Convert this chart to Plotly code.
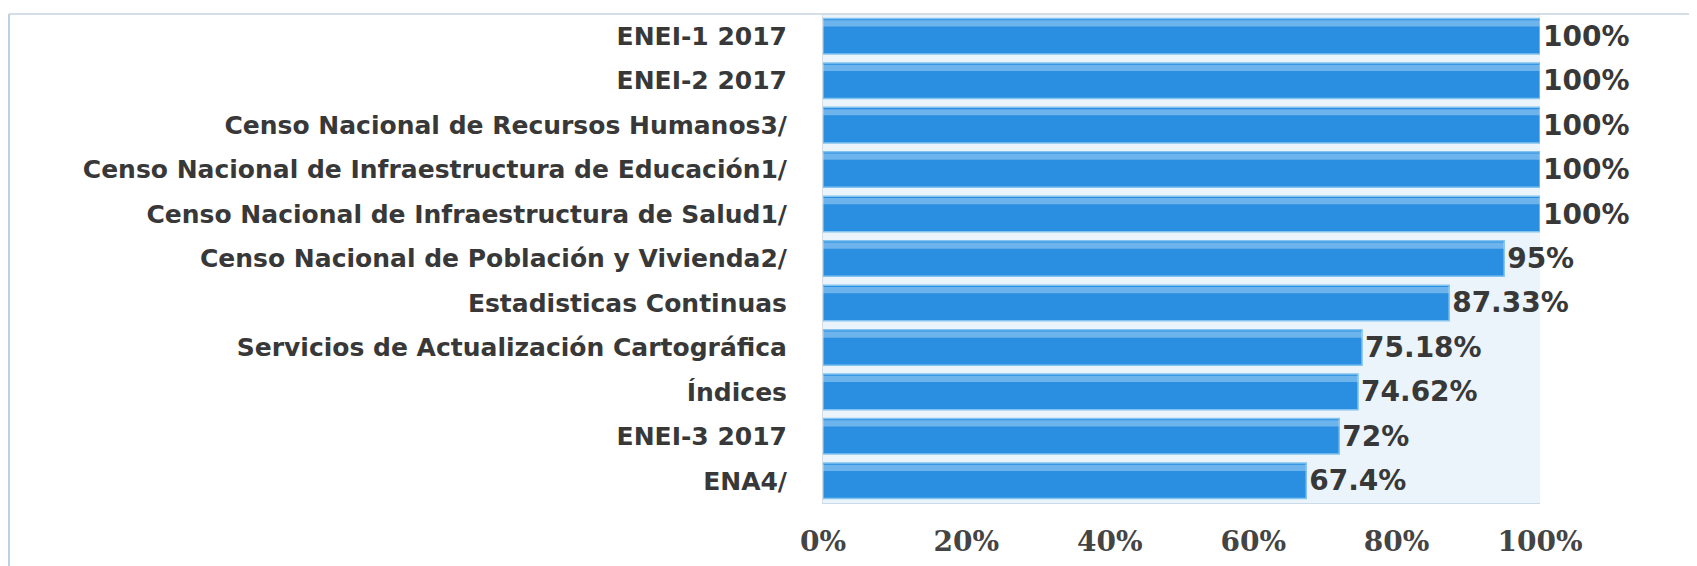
import plotly.graph_objects as go

categories = [
    "ENEI-1 2017",
    "ENEI-2 2017",
    "Censo Nacional de Recursos Humanos3/",
    "Censo Nacional de Infraestructura de Educación1/",
    "Censo Nacional de Infraestructura de Salud1/",
    "Censo Nacional de Población y Vivienda2/",
    "Estadisticas Continuas",
    "Servicios de Actualización Cartográfica",
    "Índices",
    "ENEI-3 2017",
    "ENA4/",
]
values = [100, 100, 100, 100, 100, 95, 87.33, 75.18, 74.62, 72, 67.4]
value_labels = ["100%", "100%", "100%", "100%", "100%", "95%", "87.33%",
                "75.18%", "74.62%", "72%", "67.4%"]
x_ticks = [0, 20, 40, 60, 80, 100]
x_tick_labels = ["0%", "20%", "40%", "60%", "80%", "100%"]

L, R, T, B = 815, 165, 6, 71
PW = 1697 - L - R

fig = go.Figure()
fig.add_trace(go.Bar(
    y=categories,
    x=values,
    orientation="h",
    width=0.8,
    marker=dict(color="#2a8fe0", line=dict(color="#82c3ef", width=1.5)),
    text=value_labels,
    textposition="outside",
    cliponaxis=False,
    textfont=dict(family="DejaVu Sans, sans-serif", size=28,
                  color="#383838", weight="bold"),
    hoverinfo="x+y",
))
# glossy highlight strip on top of each bar
fig.add_trace(go.Bar(
    y=categories,
    x=values,
    orientation="h",
    width=0.14,
    offset=-0.36,
    marker=dict(color="rgba(190,225,250,0.45)", line=dict(width=0)),
    hoverinfo="skip",
))

fig.update_layout(
    width=1697, height=566,
    margin=dict(l=L, r=R, t=T, b=B),
    paper_bgcolor="white",
    plot_bgcolor="#eaf4fa",
    showlegend=False,
    barmode="overlay",
    bargap=0.2,
    xaxis=dict(
        range=[0, 100],
        tickvals=x_ticks,
        ticktext=x_tick_labels,
        showgrid=False,
        zeroline=False,
        ticks="outside",
        ticklen=13,
        tickcolor="rgba(0,0,0,0)",
        tickfont=dict(family="DejaVu Serif, serif", size=28,
                      color="#444444", weight="bold"),
        showline=True,
        linecolor="#c9dbe8",
        linewidth=1,
    ),
    yaxis=dict(
        autorange="reversed",
        showgrid=False,
        ticks="",
        ticklabelstandoff=30,
        tickfont=dict(family="DejaVu Sans, sans-serif", size=25,
                      color="#383838", weight="bold"),
        showline=True,
        linecolor="#d5dde3",
    ),
)

# outer frame (left and top edges)
fig.add_shape(type="line", xref="paper", yref="paper",
              x0=(1 - L) / PW, x1=(1 - L) / PW, y0=-0.25, y1=1.0,
              line=dict(color="#b9d2e6", width=2), layer="below")
fig.add_shape(type="line", xref="paper", yref="paper",
              x0=(1 - L) / PW, x1=1 + (R - 10) / PW, y0=1.0, y1=1.0,
              line=dict(color="#c5d3de", width=1.5), layer="below")

fig.write_html("out.html")
